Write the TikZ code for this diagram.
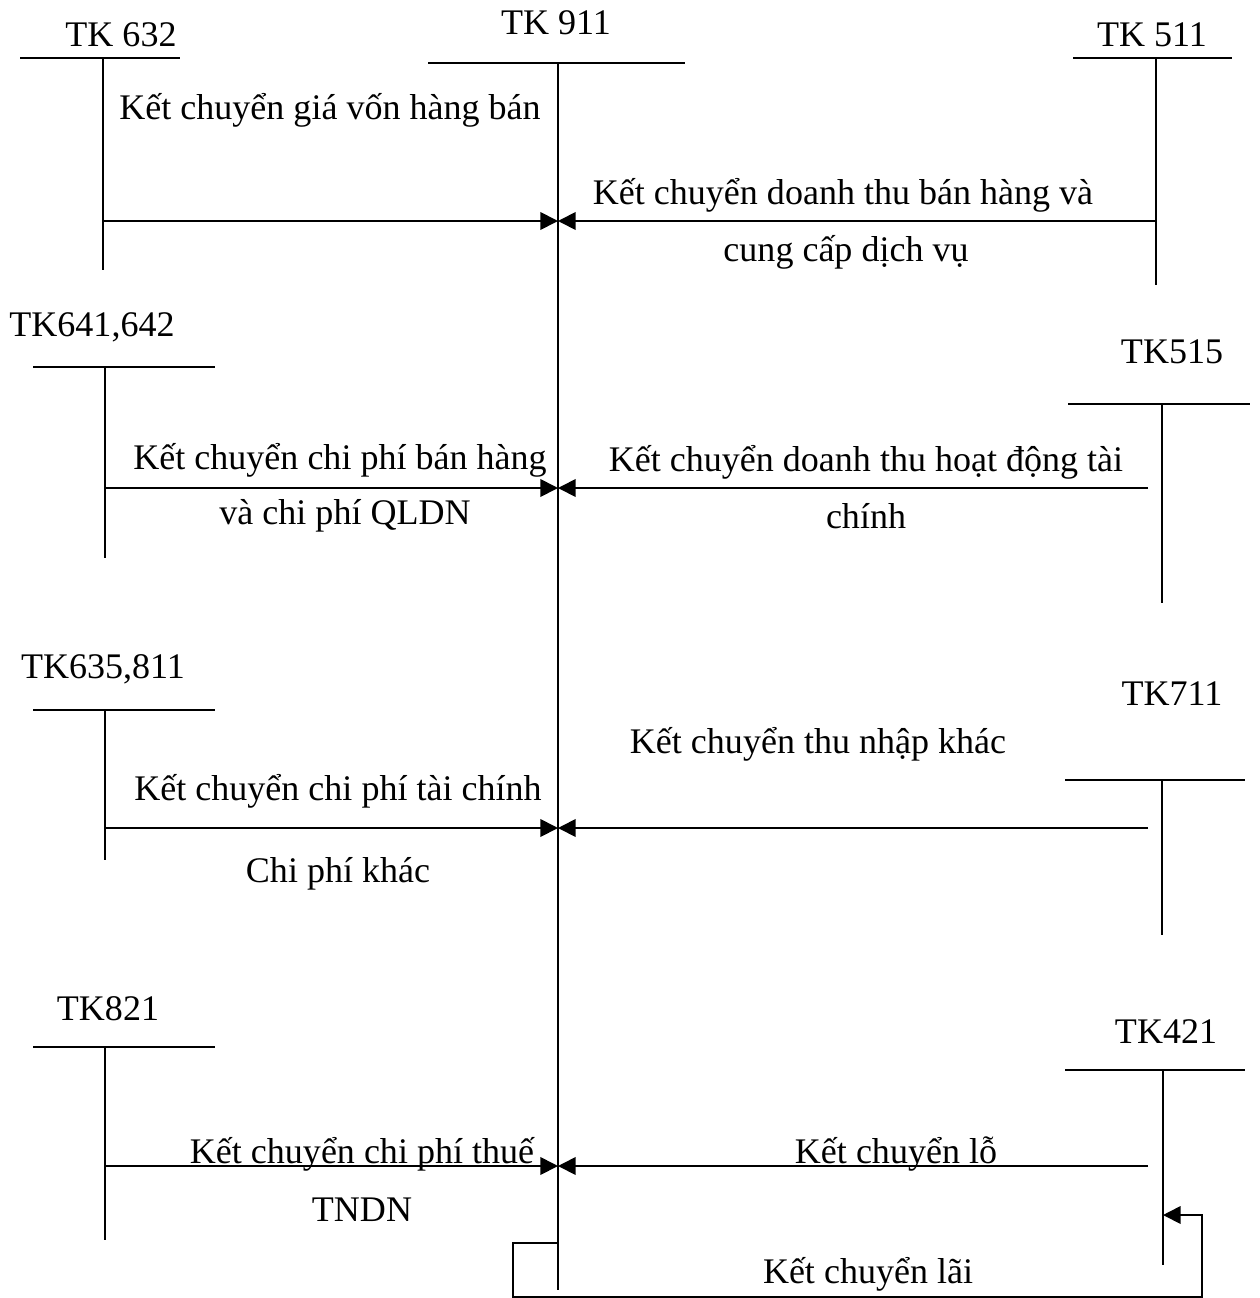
\documentclass[tikz,border=0pt]{standalone}
\usepackage{fontspec}
\setmainfont{Liberation Serif}
\usetikzlibrary{arrows.meta, positioning}

\begin{document}
\begin{tikzpicture}[x=0.02cm, y=-0.02cm, line width=1pt,
  acct/.style={font=\fontsize{20.5}{24}\selectfont, inner sep=0pt},
  txt/.style={font=\fontsize{20.5}{24}\selectfont, inner sep=0pt},
  flow/.style={-{Triangle[length=10pt, width=10pt]}}]
  \useasboundingbox (0,0) rectangle (1260,1298);

  % TK 911 (centre)
  \node[acct] (n911) at (556,23) {TK 911};
  \coordinate (a911t) at (558,63);
  \coordinate (a911b) at (558,1290);
  \draw (428,63) -- (685,63);
  \draw (a911t) -- (a911b);

  % left side accounts
  \node[acct] (n632) at (121,35) {TK 632};
  \coordinate (a632t) at (103,58);
  \draw (20,58) -- (180,58);
  \draw (a632t) -- (103,270);

  \node[acct] (n641) at (92,327) {TK641,642};
  \coordinate (a641t) at (105,367);
  \draw (33,367) -- (215,367);
  \draw (a641t) -- (105,558);

  \node[acct] (n635) at (103,669) {TK635,811};
  \coordinate (a635t) at (105,710);
  \draw (33,710) -- (215,710);
  \draw (a635t) -- (105,860);

  \node[acct] (n821) at (108,1009) {TK821};
  \coordinate (a821t) at (105,1047);
  \draw (33,1047) -- (215,1047);
  \draw (a821t) -- (105,1240);

  % right side accounts
  \node[acct] (n511) at (1152,35) {TK 511};
  \coordinate (a511t) at (1156,58);
  \draw (1073,58) -- (1232,58);
  \draw (a511t) -- (1156,285);

  \node[acct] (n515) at (1172,352) {TK515};
  \coordinate (a515t) at (1162,404);
  \draw (1068,404) -- (1250,404);
  \draw (a515t) -- (1162,603);

  \node[acct] (n711) at (1172,694) {TK711};
  \coordinate (a711t) at (1162,780);
  \draw (1065,780) -- (1245,780);
  \draw (a711t) -- (1162,935);

  \node[acct] (n421) at (1166,1032) {TK421};
  \coordinate (a421t) at (1163,1070);
  \draw (1065,1070) -- (1245,1070);
  \draw (a421t) -- (1163,1265);

  % levels of the entries
  \coordinate (r1) at (0,221);
  \coordinate (r2) at (0,488);
  \coordinate (r3) at (0,828);
  \coordinate (r4) at (0,1166);
  \coordinate (rr) at (1148,0);

  \draw[flow] (a632t |- r1) -- (a911t |- r1);
  \draw[flow] (a511t |- r1) -- (a911t |- r1);
  \draw[flow] (a641t |- r2) -- (a911t |- r2);
  \draw[flow] (rr |- r2) -- (a911t |- r2);
  \draw[flow] (a635t |- r3) -- (a911t |- r3);
  \draw[flow] (rr |- r3) -- (a911t |- r3);
  \draw[flow] (a821t |- r4) -- (a911t |- r4);
  \draw[flow] (rr |- r4) -- (a911t |- r4);

  % profit transfer
  \coordinate (lp) at (558,1243);
  \draw[flow] (lp) -- (513,1243) -- (513,1297) -- (1202,1297) -- (1202,1215) -- (a421t |- 0,1215);

  % labels
  \node[txt] (l1) at (330,110) {Kết chuyển giá vốn hàng bán};
  \node[txt] (l2) at (843,195) {Kết chuyển doanh thu bán hàng và};
  \node[txt] (l2b) at (846,252) {cung cấp dịch vụ};
  \node[txt] (l3) at (340,460) {Kết chuyển chi phí bán hàng};
  \node[txt] (l3b) at (345,516) {và chi phí QLDN};
  \node[txt] (l4) at (866,462) {Kết chuyển doanh thu hoạt động tài};
  \node[txt] (l4b) at (866,516) {chính};
  \node[txt] (l5) at (818,744) {Kết chuyển thu nhập khác};
  \node[txt] (l6) at (338,791) {Kết chuyển chi phí tài chính};
  \node[txt] (l6b) at (338,874) {Chi phí khác};
  \node[txt] (l7) at (362,1154) {Kết chuyển chi phí thuế};
  \node[txt] (l7b) at (362,1210) {TNDN};
  \node[txt] (l8) at (896,1154) {Kết chuyển lỗ};
  \node[txt] (l9) at (868,1274) {Kết chuyển lãi};
\end{tikzpicture}
\end{document}
